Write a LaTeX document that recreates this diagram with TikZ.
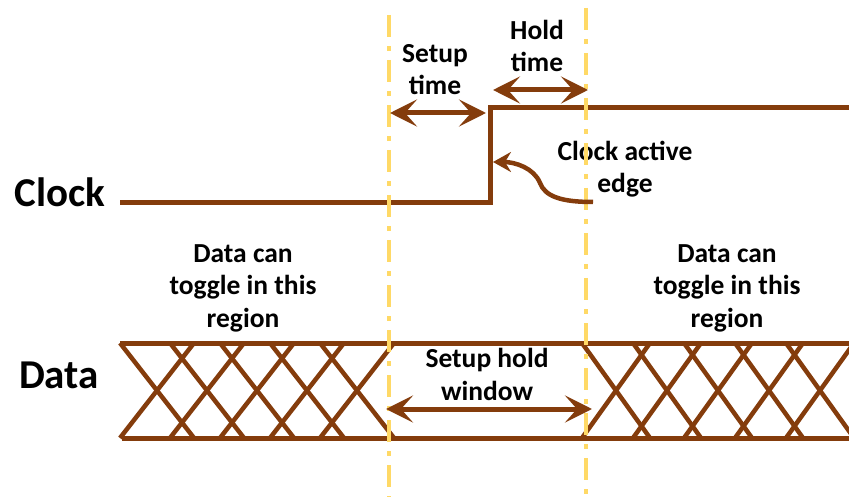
\documentclass[tikz,border=0pt]{standalone}
\usepackage{fontspec}
\setmainfont{Carlito}
\usetikzlibrary{arrows.meta}
\definecolor{wbrown}{HTML}{843C0C}
\definecolor{wyellow}{HTML}{FFD966}
\tikzset{
  wave/.style={draw=wbrown, line width=5pt},
  hatch/.style={draw=wbrown, line width=4.5pt},
  guide/.style={draw=wyellow, line width=4pt, dash pattern=on 22pt off 9pt on 5pt off 9pt},
  span/.style={draw=wbrown, line width=5pt, {Stealth[length=27pt,width=27pt,inset=12pt]}-{Stealth[length=27pt,width=27pt,inset=12pt]}},
  pointer/.style={draw=wbrown, line width=4.5pt, -{Stealth[length=18pt,width=20pt,inset=6pt]}},
  biglabel/.style={font=\bfseries\fontsize{41}{46}\selectfont, inner sep=0pt, anchor=base},
  lbl/.style={font=\bfseries\fontsize{27.5}{32.5}\selectfont, inner sep=0pt, align=center, anchor=base}
}
\begin{document}
\begin{tikzpicture}[x=1pt,y=-1pt]
\useasboundingbox (0,0) rectangle (849,497);
% labels (base = baseline of last line)
\node[biglabel] (clk) at (60,207) {Clock};
\node[biglabel] (dat) at (59,388) {Data};
\node[lbl] (setupt) at (435,95) {Setup\\time};
\node[lbl] (holdt) at (537,72) {Hold\\time};
\node[lbl] (edge) at (625,193) {Clock active\\edge};
\node[lbl] (win) at (487,400) {Setup hold\\window};
\node[lbl] (togl) at (243,327) {Data can\\toggle in this\\region};
\node[lbl] (togr) at (727,327) {Data can\\toggle in this\\region};
% clock waveform
\coordinate (c0) at (120,203);
\coordinate (c1) at (490,203);
\coordinate (c2) at (490,108);
\coordinate (c3) at (849,108);
\draw[wave] (c0) -- (c1) -- (c2) -- (c3);
% data bus lines
\coordinate (dt0) at (120,343);
\coordinate (dt1) at (849,343);
\coordinate (db0) at (122,438);
\coordinate (db1) at (849,438);
\draw[wave] (dt0) -- (dt1);
\draw[wave] (db0) -- (db1);
% hatching
\foreach \c in {157,207,257,307,357}{
  \draw[hatch] (\c-37,343) -- (\c+37,438);
  \draw[hatch] (\c-37,438) -- (\c+37,343);
}
\begin{scope}
\clip (570,330) rectangle (849,450);
\foreach \c in {616,667,718,769,820}{
  \draw[hatch] (\c-34,343) -- (\c+34,438);
  \draw[hatch] (\c-34,438) -- (\c+34,343);
}
\end{scope}
% guide lines
\coordinate (g1a) at (389,15);
\coordinate (g1b) at (389,497);
\coordinate (g2a) at (586,8);
\coordinate (g2b) at (586,497);
\draw[guide] (g1a) -- (g1b);
\draw[guide] (g2a) -- (g2b);
% spans
\coordinate (s1) at (390,113);
\coordinate (s2) at (486,113);
\coordinate (h1) at (493,90);
\coordinate (h2) at (588,90);
\coordinate (w1) at (386,409);
\coordinate (w2) at (592,409);
\draw[span] (s1) -- (s2);
\draw[span] (h1) -- (h2);
\draw[span] (w1) -- (w2);
% active edge pointer
\coordinate (p0) at (593,202);
\coordinate (p1) at (493,162);
\draw[pointer] (p0) .. controls (560,202) and (545,196) .. (540,183) .. controls (534,168) and (515,162) .. (p1);
\end{tikzpicture}
\end{document}
